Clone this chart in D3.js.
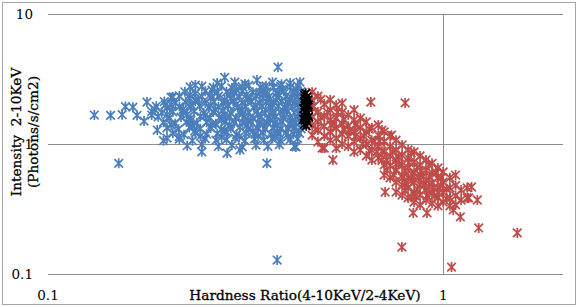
<!DOCTYPE html>
<html>
<head>
<meta charset="utf-8">
<script src="https://cdn.jsdelivr.net/npm/d3@7"></script>
<style>
  body { margin: 0; background: #fff; }
  text { font-family: "DejaVu Serif", "Liberation Serif", serif; fill: #000; }
</style>
</head>
<body>
<div id="scatter"></div>
<script>
// hardness ratio / intensity pairs
var blue = [
  [0.131,1.67],[0.144,1.66],[0.154,1.68],[0.157,1.94],[0.164,1.92],[0.168,1.66],[0.178,2.1],[0.183,1.67],
  [0.189,1.28],[0.198,2.0],[0.2,1.11],[0.207,2.3],[0.151,0.71],[0.175,1.5],[0.186,1.85],[0.196,1.06],
  [0.28,3.25],[0.297,2.99],[0.338,3.1],[0.37,2.99],[0.41,2.94],[0.434,2.99],[0.268,2.94],[0.229,2.75],[0.236,2.84],
  [0.245,2.78],[0.262,2.72],[0.275,2.8],[0.292,2.7],[0.31,2.76],[0.322,2.82],[0.345,2.74],[0.356,2.8],[0.372,2.72],[0.388,2.79],[0.41,2.74],[0.428,2.8],
  [0.222,2.52],[0.236,2.45],[0.25,2.55],[0.268,2.48],[0.283,2.52],[0.296,2.46],[0.31,2.55],[0.33,2.5],[0.343,2.44],[0.358,2.53],[0.378,2.47],[0.395,2.55],[0.418,2.49],[0.437,2.53],
  [0.205,2.28],[0.215,2.34],[0.228,2.26],[0.245,2.32],[0.258,2.27],[0.27,2.33],[0.29,2.25],[0.305,2.31],[0.32,2.29],[0.336,2.35],[0.35,2.26],[0.362,2.3],[0.38,2.27],[0.4,2.33],[0.412,2.28],[0.428,2.31],[0.44,2.25],
  [0.197,2.12],[0.21,2.06],[0.223,2.1],[0.236,2.14],[0.25,2.07],[0.263,2.11],[0.278,2.05],[0.294,2.13],[0.31,2.08],[0.327,2.11],[0.343,2.06],[0.357,2.12],[0.373,2.09],[0.39,2.13],[0.405,2.06],[0.422,2.1],[0.436,2.14],
  [0.188,1.95],[0.2,1.9],[0.215,1.94],[0.23,1.92],[0.242,1.96],[0.255,1.9],[0.27,1.93],[0.286,1.97],[0.302,1.91],[0.316,1.94],[0.332,1.9],[0.348,1.95],[0.366,1.92],[0.383,1.96],[0.398,1.9],[0.415,1.94],[0.43,1.91],[0.441,1.95],
  [0.183,1.78],[0.194,1.74],[0.207,1.77],[0.22,1.75],[0.234,1.79],[0.248,1.73],[0.262,1.76],[0.276,1.8],[0.29,1.74],[0.306,1.77],[0.322,1.75],[0.338,1.79],[0.354,1.73],[0.37,1.77],[0.387,1.75],[0.403,1.78],[0.42,1.74],[0.437,1.77],
  [0.19,1.62],[0.203,1.58],[0.217,1.61],[0.229,1.57],[0.243,1.63],[0.257,1.59],[0.272,1.6],[0.288,1.64],[0.299,1.58],[0.314,1.61],[0.33,1.57],[0.346,1.62],[0.362,1.59],[0.377,1.63],[0.394,1.58],[0.41,1.6],[0.428,1.62],[0.44,1.58],
  [0.196,1.47],[0.21,1.44],[0.224,1.48],[0.238,1.45],[0.252,1.47],[0.266,1.43],[0.281,1.48],[0.296,1.45],[0.311,1.46],[0.326,1.49],[0.342,1.44],[0.358,1.47],[0.375,1.45],[0.391,1.48],[0.408,1.44],[0.424,1.46],[0.438,1.49],
  [0.2,1.33],[0.214,1.3],[0.228,1.34],[0.243,1.31],[0.258,1.33],[0.274,1.29],[0.29,1.32],[0.306,1.35],[0.322,1.3],[0.338,1.33],[0.355,1.31],[0.371,1.34],[0.388,1.3],[0.405,1.32],[0.422,1.35],[0.437,1.31],
  [0.207,1.21],[0.221,1.18],[0.236,1.22],[0.252,1.19],[0.268,1.2],[0.284,1.23],[0.3,1.18],[0.317,1.21],[0.334,1.19],[0.35,1.22],[0.367,1.18],[0.384,1.2],[0.4,1.23],[0.418,1.19],[0.433,1.21],
  [0.215,1.09],[0.232,1.06],[0.25,1.1],[0.266,1.07],[0.283,1.08],[0.298,1.11],[0.315,1.06],[0.333,1.09],[0.352,1.07],[0.37,1.1],[0.388,1.06],[0.41,1.08],[0.428,1.1],
  [0.225,0.97],[0.245,0.99],[0.27,0.96],[0.292,0.98],[0.31,0.95],[0.336,0.98],[0.36,0.96],[0.385,0.99],[0.42,0.96],
  [0.245,0.87],[0.284,0.85],[0.358,0.71],[0.424,0.95],[0.306,0.9],[0.382,3.9],[0.38,0.128],
  [0.26,2.6],[0.3,2.62],[0.35,2.6],[0.39,2.62],[0.425,2.6],[0.24,2.2],[0.28,2.18],[0.32,2.2],[0.365,2.19],[0.41,2.2],
  [0.22,1.85],[0.265,1.84],[0.31,1.85],[0.355,1.84],[0.4,1.86],[0.23,1.52],[0.275,1.53],[0.32,1.52],[0.365,1.53],[0.415,1.52],
  [0.235,1.26],[0.28,1.25],[0.33,1.26],[0.38,1.25],[0.425,1.26],
  [0.229,2.4],[0.257,2.38],[0.29,2.41],[0.318,2.39],[0.35,2.4],[0.385,2.38],[0.42,2.41],
  [0.205,2.0],[0.23,2.01],[0.258,1.99],[0.285,2.0],[0.3,2.02],[0.335,1.99],[0.37,2.01],[0.4,2.0],[0.43,2.02],
  [0.2,1.68],[0.225,1.69],[0.25,1.67],[0.28,1.68],[0.31,1.7],[0.34,1.67],[0.37,1.69],[0.395,1.68],[0.432,1.69],
  [0.205,1.4],[0.232,1.39],[0.26,1.41],[0.288,1.4],[0.318,1.39],[0.35,1.41],[0.38,1.4],[0.415,1.39],
  [0.215,1.14],[0.243,1.15],[0.275,1.13],[0.305,1.14],[0.34,1.15],[0.375,1.13],[0.405,1.14],
  [0.315,2.9],[0.39,2.88]
];

var black = [
  [0.449,2.45],[0.446,2.38],[0.452,2.3],[0.447,2.24],[0.454,2.17],[0.445,2.11],[0.451,2.05],[0.448,1.98],
  [0.455,1.92],[0.444,1.87],[0.45,1.81],[0.447,1.75],[0.453,1.7],[0.445,1.64],[0.451,1.58],[0.448,1.52],
  [0.454,1.47],[0.446,1.42],[0.45,1.38],[0.456,2.0],[0.443,1.55],[0.457,1.62]
];

var red = [
  [0.466,2.5],[0.466,2.18],[0.466,1.9],[0.466,1.62],[0.466,1.4],[0.466,1.17],
  [0.482,2.33],[0.482,1.76],[0.482,1.48],[0.482,1.28],[0.482,1.04],
  [0.5,2.03],[0.5,1.64],[0.5,1.37],[0.5,1.15],[0.5,0.93],
  [0.518,2.18],[0.518,1.83],[0.518,1.53],[0.518,1.24],[0.518,1.07],
  [0.536,1.99],[0.536,1.58],[0.536,1.33],[0.536,1.11],[0.536,0.93],
  [0.555,2.06],[0.555,1.76],[0.555,1.43],[0.555,1.19],[0.555,1.0],
  [0.575,1.67],[0.575,1.37],[0.575,1.15],[0.575,0.96],
  [0.595,1.83],[0.595,1.53],[0.595,1.24],[0.595,1.04],[0.595,0.87],
  [0.617,1.58],[0.617,1.33],[0.617,1.11],[0.617,0.9],
  [0.639,1.48],[0.639,1.24],[0.639,1.0],[0.639,0.81],
  [0.66,1.33],[0.66,1.07],[0.66,0.9],[0.66,0.753],
  [0.685,1.4],[0.685,1.17],[0.685,0.96],[0.685,0.78],
  [0.709,1.24],[0.709,1.04],[0.709,0.87],[0.709,0.69],[0.709,0.577],
  [0.734,1.15],[0.734,0.96],[0.734,0.81],[0.734,0.68],[0.734,0.55],
  [0.76,1.07],[0.76,0.9],[0.76,0.753],[0.76,0.63],[0.76,0.51],[0.76,0.427],
  [0.787,0.982],[0.787,0.823],[0.787,0.69],[0.787,0.577],[0.787,0.484],[0.787,0.405],
  [0.815,0.9],[0.815,0.78],[0.815,0.654],[0.815,0.55],[0.815,0.46],[0.815,0.385],
  [0.844,0.87],[0.844,0.725],[0.844,0.607],[0.844,0.51],[0.844,0.427],[0.844,0.357],
  [0.874,0.81],[0.874,0.69],[0.874,0.577],[0.874,0.484],[0.874,0.405],[0.874,0.34],
  [0.905,0.753],[0.905,0.63],[0.905,0.529],[0.905,0.443],[0.905,0.371],
  [0.937,0.71],[0.937,0.6],[0.937,0.5],[0.937,0.42],[0.937,0.35],
  [0.97,0.654],[0.97,0.55],[0.97,0.46],[0.97,0.385],[0.97,0.335],
  [1.0,0.61],[1.0,0.51],[1.0,0.427],[1.0,0.357],
  [1.04,0.55],[1.04,0.46],[1.04,0.385],[1.04,0.335],
  [1.075,0.48],[1.075,0.4],[1.075,0.34],
  [1.11,0.443],[1.11,0.371],[1.15,0.46],[1.15,0.385],
  [0.77,0.8],[0.8,0.62],[0.83,0.52],[0.86,0.45],[0.89,0.56],[0.92,0.47],[0.95,0.4],[0.8,0.44],[0.86,0.66],
  [0.92,0.69],[0.985,0.48],[0.75,0.58],[0.72,0.75],[0.7,0.88],[0.67,1.05],[0.65,0.88],[0.625,1.0],[0.6,1.15],
  [0.58,1.28],[0.56,1.55],[0.54,1.75],[0.52,1.4],[0.49,1.6],[0.47,1.95],[0.475,1.3],
  [0.775,0.7],[0.79,0.55],[0.805,0.5],[0.82,0.72],[0.835,0.58],[0.85,0.4],[0.865,0.55],[0.88,0.62],[0.895,0.48],
  [0.91,0.4],[0.925,0.56],[0.945,0.46],[0.96,0.6],[0.975,0.42],[0.99,0.55],[1.02,0.45],[1.02,0.38],[0.83,0.39],
  [0.76,0.7],[0.745,0.87],[0.72,0.63],[0.7,0.75],[0.69,1.05],
  [0.49,2.2],[0.51,1.75],[0.53,1.45],[0.56,1.3],[0.6,1.4],[0.63,1.15],[0.65,1.3],[0.68,0.87],
  [0.656,2.1],[0.801,2.07],[0.7,1.28],[0.74,1.17],[0.526,0.753],[0.494,0.93],[0.83,0.85],[1.075,0.577],
  [1.18,0.467],[1.22,0.371],[1.16,0.385],[1.105,0.275],[1.06,0.311],[0.84,0.295],[0.91,0.295],[1.23,0.226],
  [1.54,0.207],[0.786,0.161],[1.05,0.113],[0.713,0.427]
];

var xTicks = [0.1, 1];
var yTicks = [0.1, 1, 10];

var svgWidth = 578, svgHeight = 307;
var plot = { left: 48, right: 563, top: 14, bottom: 274 };

var svg = d3.select("#scatter").append("svg").attr("width", svgWidth).attr("height", svgHeight);

// chart border
svg.append("rect").attr("x", 2.5).attr("y", 2.5).attr("width", 573).attr("height", 302)
   .attr("fill", "#fff").attr("stroke", "#a6a6a6").attr("stroke-width", 1);

var x = d3.scaleLog().domain([0.1, 2.01]).range([plot.left, plot.right]);
var y = d3.scaleLog().domain([0.1, 10]).range([plot.bottom, plot.top]);

// gridlines
svg.append("g").selectAll("line").data(yTicks).enter().append("line")
   .attr("x1", plot.left).attr("x2", plot.right)
   .attr("y1", d => Math.round(y(d)) + 0.5).attr("y2", d => Math.round(y(d)) + 0.5)
   .attr("stroke", "#8c8c8c").attr("stroke-width", 1);
svg.append("line")
   .attr("x1", Math.round(x(1)) + 0.5).attr("x2", Math.round(x(1)) + 0.5)
   .attr("y1", plot.top).attr("y2", plot.bottom)
   .attr("stroke", "#8c8c8c").attr("stroke-width", 1);

// tick labels
svg.append("g").selectAll("text").data(yTicks).enter().append("text")
   .attr("x", 33).attr("y", d => y(d)).attr("dy", "0.35em")
   .attr("text-anchor", "end").style("font-size", "13.5px")
   .text(d => d3.format("")(d));
svg.append("g").selectAll("text").data(xTicks).enter().append("text")
   .attr("x", d => x(d)).attr("y", 295).attr("dy", "0.35em")
   .attr("text-anchor", "middle").style("font-size", "13.5px")
   .text(d => d3.format("")(d));

// axis titles
svg.append("text").attr("x", 305).attr("y", 295).attr("dy", "0.35em")
   .attr("text-anchor", "middle").style("font-size", "13.7px")
   .style("stroke", "#000").style("stroke-width", 0.3)
   .text("Hardness Ratio(4-10KeV/2-4KeV)");
var ytitle = svg.append("text").attr("transform", "translate(0,132) rotate(-90)")
   .attr("text-anchor", "middle").style("font-size", "13.7px")
   .style("stroke", "#000").style("stroke-width", 0.3);
ytitle.append("tspan").attr("x", 0).attr("y", 21).text("Intensity\u00a0\u00a02-10KeV");
ytitle.append("tspan").attr("x", 0).attr("y", 38).text("(Photons/s/cm2)");

// star markers
var star = "M-4.3,-4.3L4.3,4.3M-4.3,4.3L4.3,-4.3M0,-5L0,5";
function drawSeries(data, color) {
  svg.append("g").selectAll("path").data(data).enter().append("path")
     .attr("d", star)
     .attr("transform", d => `translate(${x(d[0])},${y(d[1])})`)
     .attr("fill", "none").attr("stroke", color).attr("stroke-width", 1.7);
}
drawSeries(blue, "#4a7ebb");
drawSeries(red, "#be4b48");
drawSeries(black, "#000000");
</script>
</body>
</html>
